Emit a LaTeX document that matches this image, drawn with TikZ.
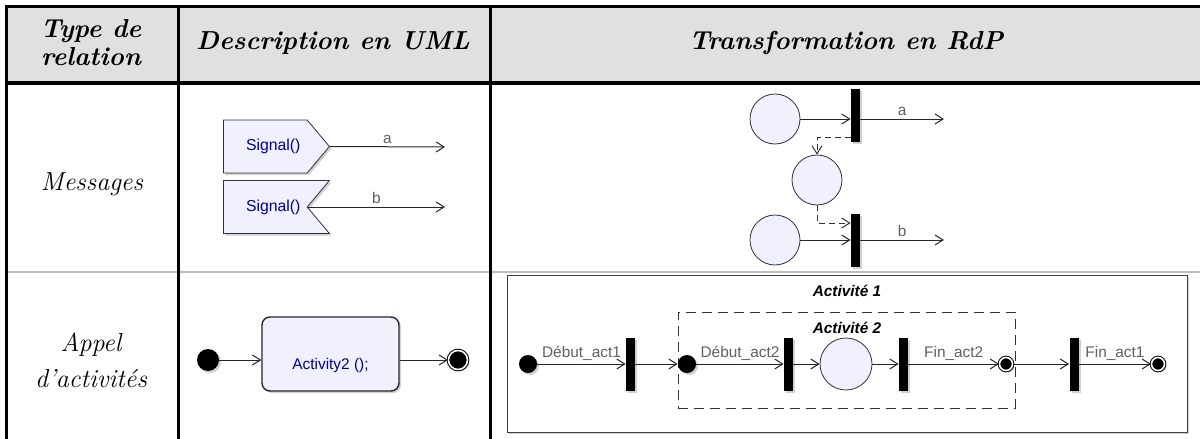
\documentclass[tikz,border=0pt]{standalone}
\usepackage{fontspec}
\newfontfamily\umlfont{Liberation Sans}
\usetikzlibrary{arrows.meta,shapes.symbols,shadows,positioning}
\definecolor{lavande}{RGB}{240,240,255}
\definecolor{entete}{RGB}{224,224,224}
\definecolor{marine}{RGB}{0,0,140}
\definecolor{gristexte}{RGB}{96,96,96}
\definecolor{grisligne}{RGB}{190,190,190}
\begin{document}
\begin{tikzpicture}[x=0.5pt,y=-0.5pt,
	titre/.style={font=\fontsize{13}{14}\selectfont\bfseries\itshape,align=center},
	cellule/.style={font=\fontsize{13}{18}\selectfont\itshape,align=center},
	ombre/.style={drop shadow={shadow xshift=1pt,shadow yshift=-1pt,fill=black!30,opacity=0.6}},
	signalbox/.style={signal,draw=black!80,fill=lavande,ombre,text=marine,
		font=\umlfont\fontsize{7.9}{9}\selectfont,minimum width=53pt,minimum height=26.5pt,
		signal pointer angle=100,inner sep=0pt,anchor=west},
	activite/.style={rectangle,rounded corners=4pt,draw=black!85,line width=0.7pt,fill=lavande,ombre,
		minimum width=68.5pt,minimum height=37pt},
	place/.style={circle,draw=black!80,fill=lavande,minimum size=25pt,inner sep=0pt},
	barre/.style={rectangle,fill=black,ombre,minimum width=4.5pt,minimum height=26.5pt,inner sep=0pt},
	depart/.style={circle,fill=black,ombre,minimum size=9pt,inner sep=0pt},
	final/.style={circle,fill=black,draw=black,line width=0.5pt,double=white,double distance=0.8pt,
		ombre,minimum size=6.5pt,inner sep=0pt},
	cadre/.style={rectangle,draw=black!75,fill=white,ombre,inner sep=0pt},
	pointille/.style={draw=black!80,line width=0.5pt,dash pattern=on 3pt off 2pt,
		-{Straight Barb[length=4pt,width=5pt]}},
	arc/.style={draw=black!85,line width=0.5pt,-{Straight Barb[length=4pt,width=5pt]}},
	lbl/.style={font=\umlfont\fontsize{7.7}{9}\selectfont,text=gristexte,inner sep=1.5pt},
	titreact/.style={font=\umlfont\fontsize{7.7}{9}\selectfont\bfseries\itshape}]
\useasboundingbox (0,0) rectangle (1200,439);
\fill[entete] (6,6) rectangle (1200,83);
\draw[grisligne,line width=1pt] (6,272) -- (1200,272);
\draw[line width=1.5pt] (5,6) -- (1200,6);
\draw[line width=2pt] (5,83) -- (1200,83);
\draw[line width=1.5pt] (6,5) -- (6,439);
\draw[line width=1.5pt] (178,5) -- (178,439);
\draw[line width=1.5pt] (490,5) -- (490,439);
\node[titre] (h1) at (91,43) {Type de\\relation};
\node[titre] (h2) at (333,43) {Description en UML};
\node[titre] (h3) at (846,43) {Transformation en RdP};
\node[cellule] (c1) at (92,184) {Messages};
\node[cellule] (c2) at (91,360) {Appel\\d'activités};

\node[signalbox,signal to=east] (sga) at (223,146.5) {\hspace*{8pt}Signal()};
\node[signalbox,signal to=nowhere,signal from=east] (sgb) at (223,207) {\hspace*{8pt}Signal()};
\coordinate (ma) at (445,147);
\coordinate (mb) at (445,207);
\draw[arc] (sga.east) -- node[lbl,above]{a} (ma);
\draw[arc] (sgb.east) -- node[lbl,above]{b} (mb);

\node[place] (pa) at (775,119) {};
\node[barre] (ta) at (855.5,115.5) {};
\node[place] (pm) at (817,180) {};
\node[place] (pb) at (775,240) {};
\node[barre] (tb) at (855.5,240) {};
\coordinate (ra) at (944,119);
\coordinate (rb) at (944,240);
\draw[arc] (pa) -- (pa -| ta.west);
\draw[arc] (pa -| ta.east) -- node[lbl,above]{a} (ra);
\draw[arc] (pb) -- (tb);
\draw[arc] (tb) -- node[lbl,above]{b} (rb);
\draw[pointille] ([yshift=2.5pt]ta.south west) -| (pm.north);
\draw[pointille] (pm.south) |- ([yshift=8.5pt]tb.west);

\node[depart,minimum size=11pt] (ud) at (208,360) {};
\node[activite,label={[text=marine,font=\umlfont\fontsize{7.7}{9}\selectfont,yshift=-6pt]center:Activity2 ();}] (ua) at (330.5,354) {};
\node[final,minimum size=9.5pt] (uf) at (458,360) {};
\draw[arc] (ud) -- (ud -| ua.west);
\draw[arc] (ua.east |- uf) -- (uf);

\node[cadre,minimum width=340pt,minimum height=78.5pt] (act1) at (847,353.5) {};
\node[titreact] (tact1) at (847,291) {Activité 1};
\node[rectangle,draw=black!80,dash pattern=on 5pt off 3pt,minimum width=168.5pt,minimum height=48pt] (act2) at (846.5,360) {};
\node[titreact] (tact2) at (847,328) {Activité 2};
\node[depart] (d1) at (528,364) {};
\node[barre] (t3) at (630.5,364) {};
\node[depart] (d2) at (687,364) {};
\node[barre] (t4) at (788.5,364) {};
\node[place,minimum size=26pt] (p4) at (846,364) {};
\node[barre] (t5) at (903.5,364) {};
\node[final] (f1) at (1006,364) {};
\node[barre] (t6) at (1074,364) {};
\node[final] (f2) at (1158,364) {};
\draw[arc] (d1) -- node[lbl,above]{Début\_act1} (t3);
\draw[arc] (t3) -- (d2);
\draw[arc] (d2) -- node[lbl,above]{Début\_act2} (t4);
\draw[arc] (t4) -- (p4);
\draw[arc] (p4) -- (t5);
\draw[arc] (t5) -- node[lbl,above]{Fin\_act2} (f1);
\draw[arc] (f1) -- (t6);
\draw[arc] (t6) -- node[lbl,above]{Fin\_act1} (f2);
\end{tikzpicture}
\end{document}
